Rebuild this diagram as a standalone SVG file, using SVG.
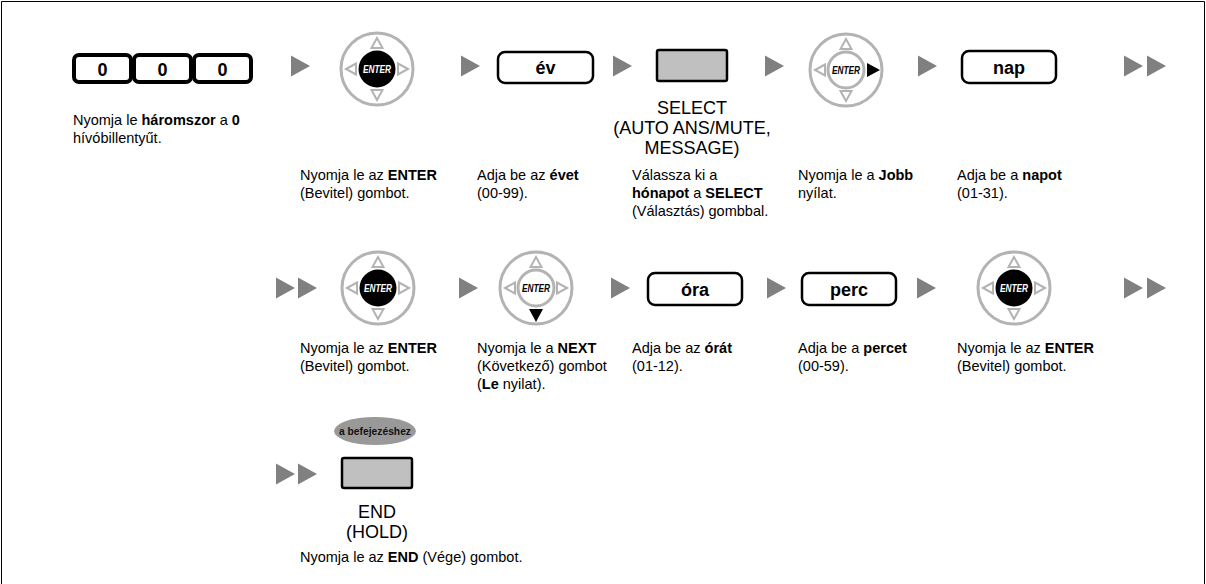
<svg xmlns="http://www.w3.org/2000/svg" width="1206" height="584" viewBox="0 0 1206 584">
<style>
.t{font-family:"Liberation Sans",Arial,sans-serif;font-size:14.5px;fill:#000}
.b{font-weight:bold}
.lbl{font-family:"Liberation Sans",Arial,sans-serif;font-size:18px;fill:#000;text-anchor:middle}
.kt{font-family:"Liberation Sans",Arial,sans-serif;font-size:18px;font-weight:bold;fill:#000;text-anchor:middle}
.key{fill:#fff;stroke:#000;stroke-width:2.5}
.btn{fill:#c0c0c0;stroke:#000;stroke-width:2.5}
.dk{fill:#fff;stroke:#000;stroke-width:4}
.ring{fill:#fff;stroke:#b3b3b3;stroke-width:3}
.tri{fill:#fff;stroke:#b3b3b3;stroke-width:2}
.arr{fill:#808080}
.en{font-family:"Liberation Sans",Arial,sans-serif;font-size:11px;font-weight:bold;font-style:italic;text-anchor:middle}
</style>
<defs>
<polygon id="arrow" points="0,-10.5 19,0 0,10.5"/>
<g id="navbase">
<circle r="36" class="ring"/>
<polygon class="tri" points="0,-31 -5.5,-21 5.5,-21"/>
<polygon class="tri" points="-31,0 -21,-5.5 -21,5.5"/>
</g>
<g id="navE">
<use href="#navbase"/>
<polygon class="tri" points="0,31 -5.5,21 5.5,21"/>
<polygon class="tri" points="31,0 21,-5.5 21,5.5"/>
<circle r="18.5" fill="#000"/>
<text class="en" y="4" fill="#fff" textLength="28" lengthAdjust="spacingAndGlyphs">ENTER</text>
</g>
</defs>
<path d="M1.5,584 V1.5 H1204.5 V584" fill="none" stroke="#000" stroke-width="1"/>

<g id="connectors" class="arr">
<use href="#arrow" x="291" y="66"/>
<use href="#arrow" x="461" y="66"/>
<use href="#arrow" x="613" y="66"/>
<use href="#arrow" x="765" y="66"/>
<use href="#arrow" x="918" y="66"/>
<use href="#arrow" x="1124" y="66"/>
<use href="#arrow" x="1147" y="66"/>
<use href="#arrow" x="276" y="288"/>
<use href="#arrow" x="298" y="288"/>
<use href="#arrow" x="459" y="288"/>
<use href="#arrow" x="611" y="288"/>
<use href="#arrow" x="767" y="288"/>
<use href="#arrow" x="917" y="288"/>
<use href="#arrow" x="1124" y="288"/>
<use href="#arrow" x="1147" y="288"/>
<use href="#arrow" x="276" y="474"/>
<use href="#arrow" x="298" y="474"/>
</g>

<g id="n-000">
<rect class="dk" x="74" y="55" width="57" height="27" rx="5"/>
<rect class="dk" x="134" y="55" width="57" height="27" rx="5"/>
<rect class="dk" x="194" y="55" width="57" height="27" rx="5"/>
<text class="kt" x="102.5" y="75.5" font-size="19">0</text>
<text class="kt" x="162.5" y="75.5" font-size="19">0</text>
<text class="kt" x="222.5" y="75.5" font-size="19">0</text>
<text class="t" x="73" y="125">Nyomja le <tspan class="b">háromszor</tspan> a <tspan class="b">0</tspan></text>
<text class="t" x="73" y="143">hívóbillentyűt.</text>
</g>

<g id="n-enter1">
<use href="#navE" x="377" y="69"/>
<text class="t" x="300" y="180">Nyomja le az <tspan class="b">ENTER</tspan></text>
<text class="t" x="300" y="198">(Bevitel) gombot.</text>
</g>

<g id="n-ev">
<rect class="key" x="498" y="52" width="95" height="31" rx="7"/>
<text class="kt" x="545.5" y="74">év</text>
<text class="t" x="477" y="180">Adja be az <tspan class="b">évet</tspan></text>
<text class="t" x="477" y="198">(00-99).</text>
</g>

<g id="n-select">
<rect class="btn" x="657" y="50" width="70" height="31" rx="2"/>
<text class="lbl" x="692" y="114">SELECT</text>
<text class="lbl" x="692" y="134">(AUTO ANS/MUTE,</text>
<text class="lbl" x="692" y="154">MESSAGE)</text>
<text class="t" x="632" y="180">Válassza ki a</text>
<text class="t" x="632" y="198"><tspan class="b">hónapot</tspan> a <tspan class="b">SELECT</tspan></text>
<text class="t" x="632" y="216">(Választás) gombbal.</text>
</g>

<g id="n-right">
<g transform="translate(846,70)">
<use href="#navbase"/>
<polygon class="tri" points="0,31 -5.5,21 5.5,21"/>
<circle r="18" class="ring"/>
<polygon fill="#000" points="34,0 21,-7 21,7"/>
<text class="en" y="4" fill="#000" textLength="28" lengthAdjust="spacingAndGlyphs">ENTER</text>
</g>
<text class="t" x="798" y="180">Nyomja le a <tspan class="b">Jobb</tspan></text>
<text class="t" x="798" y="198">nyílat.</text>
</g>

<g id="n-nap">
<rect class="key" x="962" y="51" width="94" height="32" rx="7"/>
<text class="kt" x="1009" y="73.5">nap</text>
<text class="t" x="957" y="180">Adja be a <tspan class="b">napot</tspan></text>
<text class="t" x="957" y="198">(01-31).</text>
</g>

<g id="n-enter2">
<use href="#navE" x="378" y="288"/>
<text class="t" x="300" y="353">Nyomja le az <tspan class="b">ENTER</tspan></text>
<text class="t" x="300" y="371">(Bevitel) gombot.</text>
</g>

<g id="n-next">
<g transform="translate(536,288)">
<use href="#navbase"/>
<polygon class="tri" points="31,0 21,-5.5 21,5.5"/>
<circle r="18" class="ring"/>
<polygon fill="#000" points="0,34 -7,21 7,21"/>
<text class="en" y="4" fill="#000" textLength="28" lengthAdjust="spacingAndGlyphs">ENTER</text>
</g>
<text class="t" x="477" y="353">Nyomja le a <tspan class="b">NEXT</tspan></text>
<text class="t" x="477" y="371">(Következő) gombot</text>
<text class="t" x="477" y="389">(<tspan class="b">Le</tspan> nyilat).</text>
</g>

<g id="n-ora">
<rect class="key" x="648" y="273" width="94" height="32" rx="7"/>
<text class="kt" x="695" y="295.5">óra</text>
<text class="t" x="632" y="353">Adja be az <tspan class="b">órát</tspan></text>
<text class="t" x="632" y="371">(01-12).</text>
</g>

<g id="n-perc">
<rect class="key" x="802" y="273" width="94" height="32" rx="7"/>
<text class="kt" x="849" y="295.5">perc</text>
<text class="t" x="798" y="353">Adja be a <tspan class="b">percet</tspan></text>
<text class="t" x="798" y="371">(00-59).</text>
</g>

<g id="n-enter3">
<use href="#navE" x="1014" y="288"/>
<text class="t" x="957" y="353">Nyomja le az <tspan class="b">ENTER</tspan></text>
<text class="t" x="957" y="371">(Bevitel) gombot.</text>
</g>

<g id="n-end">
<ellipse cx="375" cy="431" rx="41" ry="14" fill="#999"/>
<text x="375" y="435" font-family="'Liberation Sans',Arial,sans-serif" font-size="11" font-weight="bold" fill="#111" text-anchor="middle" textLength="72" lengthAdjust="spacingAndGlyphs">a befejezéshez</text>
<rect class="btn" x="342" y="458" width="70" height="30" rx="2"/>
<text class="lbl" x="377" y="518">END</text>
<text class="lbl" x="377" y="538">(HOLD)</text>
<text class="t" x="300" y="562">Nyomja le az <tspan class="b">END</tspan> (Vége) gombot.</text>
</g>
</svg>
